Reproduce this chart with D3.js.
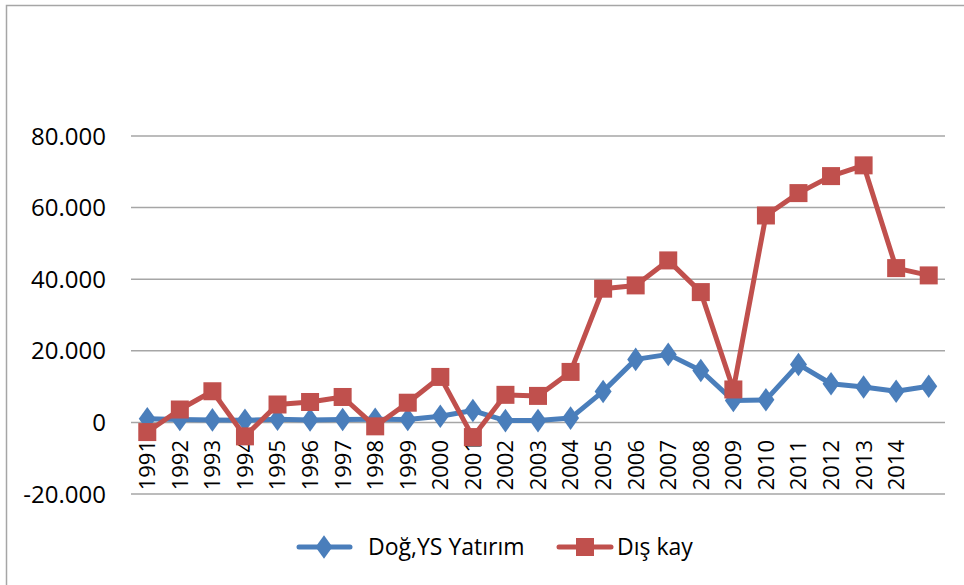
<!DOCTYPE html>
<html><head><meta charset="utf-8">
<script src="https://cdn.jsdelivr.net/npm/d3@7"></script>
<style>body{margin:0;background:#fff}svg{display:block}text{font-family:"Open Sans",sans-serif;fill:#000}</style>
</head><body><svg id="c" width="964" height="585"></svg>
<script>
const years = ["1991","1992","1993","1994","1995","1996","1997","1998","1999","2000","2001","2002","2003","2004","2005","2006","2007","2008","2009","2010","2011","2012","2013","2014","2015"];
const yearLabels = ["1991","1992","1993","1994","1995","1996","1997","1998","1999","2000","2001","2002","2003","2004","2005","2006","2007","2008","2009","2010","2011","2012","2013","2014",""];
const dogYS = [1000,800,700,600,900,700,800,900,800,1700,3300,500,500,1200,8660,17600,19000,14500,6100,6300,16200,10800,9900,8700,10100];
const disKay = [-2700,3600,8700,-3900,5000,5700,7100,-1100,5500,12700,-4100,7700,7400,14100,37350,38270,45250,36400,9200,57800,64050,68800,71800,43100,41060];
const yTicks = [-20000,0,20000,40000,60000,80000];
const seriesNames = ["Doğ,YS Yatırım","Dış kay"];

const svg = d3.select("#c");
svg.append("rect").attr("x",6.5).attr("y",5.5).attr("width",970).attr("height",600)
  .attr("fill","none").attr("stroke","#a6a6a6").attr("stroke-width",1.5);

const x = d3.scaleBand().domain(years).range([131,945]);
const y = d3.scaleLinear().domain([-20000,80000]).range([494,136]);
const loc = d3.formatLocale({decimal:",",thousands:".",grouping:[3],currency:["",""],minus:"-"});
const fmt = loc.format(",");
const cx = d => x(d) + x.bandwidth()/2;

const g = svg.append("g");
g.selectAll("line.grid").data(yTicks).join("line").attr("class","grid")
  .attr("x1",131).attr("x2",945).attr("y1",d=>y(d)).attr("y2",d=>y(d))
  .attr("stroke","#a6a6a6").attr("stroke-width",1.5);
g.selectAll("text.yl").data(yTicks).join("text").attr("class","yl")
  .attr("x",106).attr("y",d=>y(d)).attr("dy","0.36em").attr("text-anchor","end")
  .attr("font-size",24).text(d=>fmt(d));
g.selectAll("text.xl").data(years).join("text").attr("class","xl")
  .attr("transform",d=>`translate(${cx(d)},440) rotate(-90)`)
  .attr("text-anchor","end").attr("dy","0.36em").attr("font-size",22)
  .text((d,i)=>yearLabels[i]);

const line = d3.line().x((d,i)=>cx(years[i])).y(d=>y(d));
const blue = "#4a7ebb", red = "#c0504d";
const diamond = d3.symbol().type(d3.symbolDiamond).size(160);

g.append("path").datum(dogYS).attr("d",line).attr("fill","none").attr("stroke",blue)
  .attr("stroke-width",5).attr("stroke-linejoin","round").attr("stroke-linecap","round");
g.selectAll("path.dm").data(dogYS).join("path").attr("class","dm")
  .attr("d",diamond).attr("fill",blue)
  .attr("transform",(d,i)=>`translate(${cx(years[i])},${y(d)}) scale(1.25,1)`);

g.append("path").datum(disKay).attr("d",line).attr("fill","none").attr("stroke",red)
  .attr("stroke-width",5).attr("stroke-linejoin","round").attr("stroke-linecap","round");
g.selectAll("rect.sq").data(disKay).join("rect").attr("class","sq")
  .attr("x",(d,i)=>cx(years[i])-9).attr("y",d=>y(d)-9).attr("width",18).attr("height",18).attr("fill",red);

// legend
const lg = svg.append("g");
lg.append("line").attr("x1",299).attr("x2",350).attr("y1",547).attr("y2",547).attr("stroke",blue).attr("stroke-width",5).attr("stroke-linecap","round");
lg.append("path").attr("d",diamond).attr("fill",blue).attr("transform","translate(324,547) scale(1.25,1)");
lg.append("text").attr("x",368).attr("y",547).attr("dy","0.36em").attr("font-size",23).text(seriesNames[0]);
lg.append("line").attr("x1",559).attr("x2",611).attr("y1",547).attr("y2",547).attr("stroke",red).attr("stroke-width",5).attr("stroke-linecap","round");
lg.append("rect").attr("x",576).attr("y",538).attr("width",18).attr("height",18).attr("fill",red);
lg.append("text").attr("x",617).attr("y",547).attr("dy","0.36em").attr("font-size",23).text(seriesNames[1]);
</script></body></html>
